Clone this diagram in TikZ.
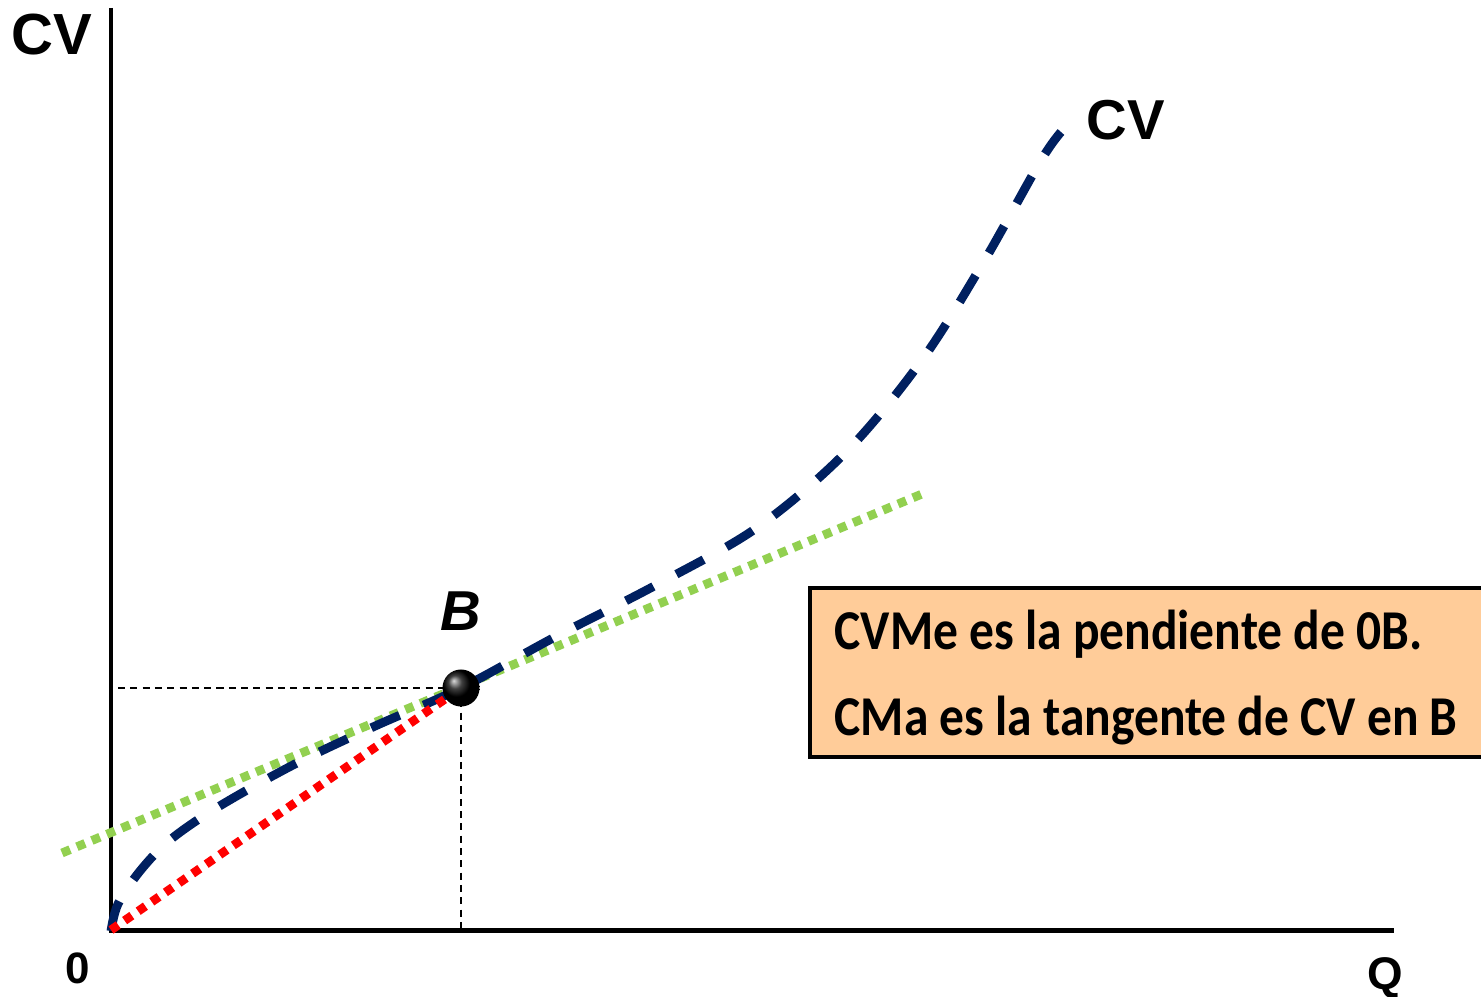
\documentclass[tikz,border=0pt]{standalone}
\usepackage{fontspec}
\setmainfont{Liberation Sans}
\newfontfamily\boxfont{Carlito}
\usetikzlibrary{calc}
\definecolor{navy}{HTML}{002060}
\definecolor{tgreen}{HTML}{92D050}
\definecolor{boxfill}{HTML}{FFCC99}
\tikzset{
  axisline/.style={line width=1.42pt, black},
  cvcurve/.style={line width=2.5pt, navy, dash pattern=on 8.8pt off 7.4pt},
  tangentline/.style={line width=2.5pt, tgreen, dash pattern=on 2.5pt off 2.1pt},
  rayline/.style={line width=2.5pt, red, dash pattern=on 2.5pt off 2.2pt},
  guideline/.style={line width=0.45pt, black, dash pattern=on 2pt off 1.5pt},
  biglabel/.style={font=\fontsize{16.5}{19}\selectfont\bfseries, anchor=base, inner sep=0pt},
  smalllabel/.style={font=\fontsize{13}{15}\selectfont\bfseries, anchor=base, inner sep=0pt},
  boxtext/.style={font=\boxfont\fontsize{16}{19}\selectfont\bfseries, anchor=base west, inner sep=0pt, xscale=0.88},
}
\begin{document}
\begin{tikzpicture}[x=0.01cm, y=-0.01cm]
\useasboundingbox (0,0) rectangle (1481,997);
% axes
\coordinate (O) at (111,930);
\coordinate (Ytop) at (111,8);
\coordinate (Xend) at (1394,930);
\draw[axisline] (Ytop) -- (O) -- (Xend);
% labels
\node[biglabel] (cvaxis) at (51.5,55) {CV};
\node[smalllabel, font=\fontsize{12.5}{15}\selectfont\bfseries] (zero) at (77.5,983) {0};
\node[smalllabel] (qlab) at (1385,989) {Q};
% point B
\coordinate (Bc) at (461,688);
\coordinate (Hleft) at (118,688);
\coordinate (Vbot) at (461,928);
\draw[guideline] (Hleft) -- (Bc);
\draw[guideline] (Bc) -- (Vbot);
% tangent (green)
\coordinate (Tl) at (62,853);
\coordinate (Tr) at (922,494);
\draw[tangentline] (Tl) -- (Tr);
% curve CV
\draw[cvcurve] plot[smooth, tension=0.55] coordinates {
 (111,931) (118,904) (140,871) (170,840) (218,807) (295,764) (373,727)
 (461,688) (555,637) (658,584) (758,527) (847,451) (922,360) (983,263)
 (1040,162) (1061,132)};
% ray 0B (red)
\draw[rayline] (O) -- (Bc);
% ball
\node[circle, minimum size=0.37cm, inner sep=0pt, shading=ball, ball color=black] (B) at (Bc) {};
\node[biglabel, font=\fontsize{16}{19}\selectfont\bfseries\itshape] (blab) at (461,630) {B};
\node[biglabel, font=\fontsize{16}{19}\selectfont\bfseries] (cvcurvelab) at (1125.5,140) {CV};
% box
\fill[boxfill] (810,588) rectangle (1481,757);
\draw[line width=1.1pt, black] (1481,588) -- (810,588) -- (810,757) -- (1481,757);
\node[boxtext] (t1) at (834,649) {CVMe es la pendiente de 0B.};
\node[boxtext] (t2) at (834,735) {CMa es la tangente de CV en B};
\end{tikzpicture}
\end{document}
